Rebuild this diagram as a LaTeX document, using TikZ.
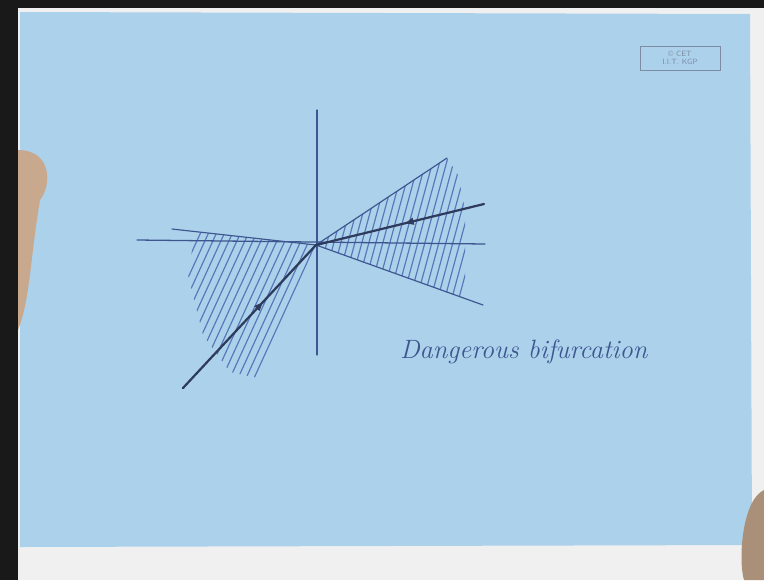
\documentclass[tikz,border=0pt]{standalone}
\usepackage{tikz}
\usetikzlibrary{arrows.meta,decorations.markings,calc}
\definecolor{boardblue}{HTML}{ACD1EB}
\definecolor{penblue}{HTML}{3E5690}
\definecolor{hatchblue}{HTML}{4A68B0}
\definecolor{inkdark}{HTML}{2E3B5C}
\definecolor{skin}{HTML}{C9A98E}
\definecolor{stampgray}{HTML}{7D8CA3}

\begin{document}
\begin{tikzpicture}[
    x=0.03cm,y=-0.03cm,
    axe/.style    = {draw=penblue,line width=1.1pt,line cap=round},
    bord/.style   = {draw=penblue,line width=1pt,line cap=round},
    traj/.style   = {draw=inkdark,line width=1.9pt,line cap=round,
                     postaction={decorate},
                     decoration={markings,mark=at position #1 with
                       {\arrow{Triangle[length=2.6mm,width=2mm]}}}},
    hach/.style   = {draw=hatchblue,line width=1pt,opacity=0.85},
    legende/.style= {font=\fontsize{22.6}{26}\selectfont\itshape,text=penblue},
    tampon/.style = {draw=stampgray,line width=0.7pt,align=center,inner sep=1pt,
                     minimum width=2.4cm,minimum height=0.72cm,
                     font=\fontsize{6.5}{7}\selectfont\sffamily,text=stampgray},
  ]

  % ── Fond (tableau) ──────────────────────────────────────────────────────
  \useasboundingbox (0,0) rectangle (764,580);
  \fill[black!90] (0,0) rectangle (764,580);
  \fill[gray!12] (18,8) rectangle (764,580);
  \fill[boardblue] (20,12) -- (750,14) -- (752,545) -- (20,547) -- cycle;
  \fill[skin] (18,150) .. controls (52,150) and (52,185) .. (40,200)
              .. controls (30,260) and (30,300) .. (18,330) -- cycle;
  \fill[skin!85!black] (764,490) .. controls (742,500) and (738,560) .. (744,580)
                       -- (764,580) -- cycle;
  \node[tampon] (stamp) at (680,58) {\textcopyright\ CET\\I.I.T. KGP};

  % ── Points ──────────────────────────────────────────────────────────────
  \coordinate (O)   at (316,245);
  \coordinate (yh)  at (317,110);
  \coordinate (yb)  at (317,355);
  \coordinate (xg)  at (137,240);
  \coordinate (xd)  at (485,244);
  \coordinate (ru)  at (447,158);
  \coordinate (rl)  at (483,305);
  \coordinate (lu)  at (172,229);
  \coordinate (tr)  at (484,204);
  \coordinate (tl)  at (183,388);

  % ── Hachures ────────────────────────────────────────────────────────────
  \begin{scope}
    \clip (O) -- (195,232) -- (188,275) -- (203,335) -- (230,372)
          -- (258,378) -- cycle;
    \foreach \x in {100,108,...,380}
      \draw[hach] (\x,400) -- ++(110,-240);
  \end{scope}
  \begin{scope}
    \clip (O) -- (ru) -- (458,175) -- (465,210) -- (465,299) -- cycle;
    \foreach \x in {250,257,...,480}
      \draw[hach] (\x,320) -- ++(50,-185);
  \end{scope}

  % ── Axes et frontières ──────────────────────────────────────────────────
  \draw[axe] (yh) -- (yb);
  \draw[axe] (xg) -- (xd);
  \draw[bord] (O) -- (ru);
  \draw[bord] (O) -- (rl);
  \draw[bord] (lu) -- (O);

  % ── Trajectoires ────────────────────────────────────────────────────────
  \draw[traj=0.47] (tr) -- (O);
  \draw[traj=0.6]  (tl) -- (O);

  \node[legende,anchor=west] (titre) at (396,352) {Dangerous bifurcation};

\end{tikzpicture}
\end{document}
